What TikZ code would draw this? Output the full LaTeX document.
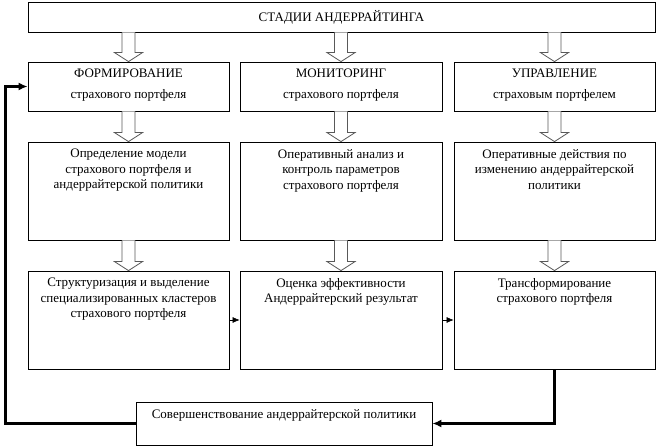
\documentclass[tikz,border=0pt]{standalone}
\usepackage{fontspec}
\setmainfont{Liberation Serif}
\usetikzlibrary{positioning,calc,arrows.meta}

\tikzset{
    box/.style={draw, line width=0.8pt, inner sep=0pt},
    txt/.style={inner sep=0pt, align=center, font=\fontsize{13}{15.5}\selectfont},
    hollow/.style={draw=black!65, line width=0.8pt, fill=white},
    small/.style={-{Latex[length=7pt,width=6pt]}, line width=0.6pt},
    feedback/.style={-{Latex[length=9pt,width=8pt]}, line width=3pt}
}

\newcommand{\hollowdown}[2]{%
    \draw[hollow] let \p1=(#1.south -| #2.north), \p2=(#2.north) in
        (\x1-6.5pt,\y1) -- (\x1-6.5pt,\y2+9pt) -- (\x1-14pt,\y2+9pt) -- (\p2)
        -- (\x1+14pt,\y2+9pt) -- (\x1+6.5pt,\y2+9pt) -- (\x1+6.5pt,\y1);}

\begin{document}
\begin{tikzpicture}[x=1pt, y=-1pt]
    \useasboundingbox (0,0) rectangle (657,446);

    \node[box, minimum width=627pt, minimum height=30pt, txt] (stages) at (341.5,17) {СТАДИИ АНДЕРРАЙТИНГА};

    % row 1
    \node[box, minimum width=201pt, minimum height=49pt] (form) at (128.5,86.5) {};
    \node[box, minimum width=202pt, minimum height=49pt] (monit) at (341,86.5) {};
    \node[box, minimum width=201pt, minimum height=49pt] (manag) at (554.5,86.5) {};
    \node[txt, below=7.5pt of form.north] {ФОРМИРОВАНИЕ\\[5pt]страхового портфеля};
    \node[txt, below=7.5pt of monit.north] {МОНИТОРИНГ\\[5pt]страхового портфеля};
    \node[txt, below=7.5pt of manag.north] {УПРАВЛЕНИЕ\\[5pt]страховым портфелем};

    % row 2
    \node[box, minimum width=201pt, minimum height=98pt] (model) at (128.5,191) {};
    \node[box, minimum width=202pt, minimum height=98pt] (analysis) at (341,191) {};
    \node[box, minimum width=201pt, minimum height=98pt] (actions) at (554.5,191) {};
    \node[txt, below=7.5pt of model.north] {Определение модели\\страхового портфеля и\\андеррайтерской политики};
    \node[txt, below=7.5pt of analysis.north] {Оперативный анализ и\\контроль параметров\\страхового портфеля};
    \node[txt, below=7.5pt of actions.north] {Оперативные действия по\\изменению андеррайтерской\\политики};

    % row 3
    \node[box, minimum width=201pt, minimum height=98pt] (cluster) at (128.5,320) {};
    \node[box, minimum width=202pt, minimum height=98pt] (result) at (341,320) {};
    \node[box, minimum width=201pt, minimum height=98pt] (transf) at (554.5,320) {};
    \node[txt, below=7.5pt of cluster.north] {Структуризация и выделение\\специализированных кластеров\\страхового портфеля};
    \node[txt, below=7.5pt of result.north] {Оценка эффективности\\Андеррайтерский результат};
    \node[txt, below=7.5pt of transf.north] {Трансформирование\\страхового портфеля};

    \node[box, minimum width=296pt, minimum height=43pt] (improve) at (284,423.5) {};
    \node[txt, below=7.5pt of improve.north] {Совершенствование андеррайтерской политики};

    % hollow arrows
    \hollowdown{stages}{form}
    \hollowdown{stages}{monit}
    \hollowdown{stages}{manag}
    \hollowdown{form}{model}
    \hollowdown{monit}{analysis}
    \hollowdown{manag}{actions}
    \hollowdown{model}{cluster}
    \hollowdown{analysis}{result}
    \hollowdown{actions}{transf}

    \draw[small] (cluster) -- (result);
    \draw[small] (result) -- (transf);

    % feedback loop
    \coordinate (corner) at (5,86.5);
    \draw[feedback] (transf.south) |- (improve.east);
    \draw[feedback] (improve.west) -| (corner) -- (form.west);
\end{tikzpicture}
\end{document}
